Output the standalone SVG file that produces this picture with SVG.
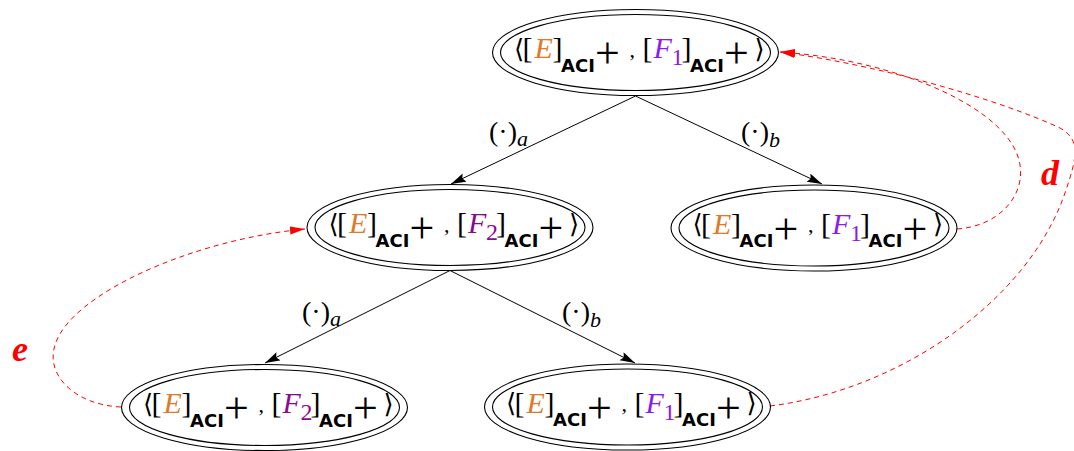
<svg xmlns="http://www.w3.org/2000/svg" width="1074" height="451" viewBox="0 0 1074 451">
<defs>
<style>
.eo{fill:none;stroke:#000;stroke-width:1.1}
.ang{font-family:"DejaVu Sans",sans-serif;font-size:26px}
.br{font-family:"Liberation Serif",serif;font-size:30px}
.it{font-family:"Liberation Serif",serif;font-size:30px;font-style:italic}
.aci{font-family:"DejaVu Sans",sans-serif;font-weight:bold;font-size:18px}
.pl{font-family:"Liberation Serif",serif;font-size:44px}
.cm{font-family:"Liberation Serif",serif;font-size:22px}
.sub{font-family:"Liberation Serif",serif;font-size:24px}
.cE{fill:#dd7a2c}
.cF1{fill:#8a1cf0}
.cF2{fill:#8b0a8b}
.edge{fill:none;stroke:#000;stroke-width:1}
.red{fill:none;stroke:#ff0000;stroke-width:1;stroke-dasharray:5 4}
.lbl{font-family:"Liberation Serif",serif;font-size:28px}
.lsub{font-family:"Liberation Serif",serif;font-size:22px;font-style:italic}
.rl{font-family:"Liberation Serif",serif;font-size:36px;font-weight:bold;font-style:italic;fill:#ff0000}
</style>
<marker id="ah" markerUnits="userSpaceOnUse" markerWidth="16" markerHeight="10" refX="15" refY="4.5" orient="auto">
<path d="M0,0 L15,4.5 L0,9 L2.5,4.5 z" fill="#000"/>
</marker>
<marker id="rh" markerUnits="userSpaceOnUse" markerWidth="16" markerHeight="10" refX="15" refY="4" orient="auto">
<path d="M0,0 L15,4 L0,8 z" fill="#ff0000"/>
</marker>
</defs>

<g id="connectors">
<line class="edge" x1="635.5" y1="96" x2="451" y2="184" marker-end="url(#ah)"/>
<line class="edge" x1="635.5" y1="96" x2="822" y2="184" marker-end="url(#ah)"/>
<line class="edge" x1="450" y1="270.5" x2="265" y2="363" marker-end="url(#ah)"/>
<line class="edge" x1="450" y1="270.5" x2="635" y2="363" marker-end="url(#ah)"/>
<text class="lbl" x="489" y="141">(·)<tspan class="lsub" y="146">a</tspan></text>
<text class="lbl" x="741" y="141">(·)<tspan class="lsub" y="147">b</tspan></text>
<text class="lbl" x="302" y="321">(·)<tspan class="lsub" y="326">a</tspan></text>
<text class="lbl" x="562" y="321">(·)<tspan class="lsub" y="327">b</tspan></text>
<path class="red" d="M121,407 C75,405 45,375 55,345 C70,295 190,240 305,229" marker-end="url(#rh)"/>
<path class="red" d="M957,229 C1000,226 1025,195 1020,165 C1012,110 900,60 780,52" marker-end="url(#rh)"/>
<path class="red" d="M770,406 C900,390 1030,300 1066,190 C1076,160 1082,140 1060,128 C1000,100 880,65 780,52" marker-end="url(#rh)"/>
<text class="rl" x="1041" y="185">d</text>
<text class="rl" x="12" y="361">e</text>
</g>

<g id="n_root" transform="translate(635.5,52.5)">
<ellipse class="eo" rx="143" ry="43"/>
<ellipse class="eo" rx="135" ry="38"/>
<text><tspan class="ang" x="-121.5" y="5">⟨</tspan><tspan class="br" x="-113" y="5.5">[</tspan><tspan class="it cE" x="-101" y="5.5">E</tspan><tspan class="br" x="-83" y="5.5">]</tspan><tspan class="aci" x="-74.5" y="19">ACI</tspan><tspan class="pl" x="-40.5" y="15.5">+</tspan><tspan class="cm" x="-6" y="4">,</tspan><tspan class="br" x="7" y="5.5">[</tspan><tspan class="it cF1" x="18" y="5.5">F</tspan><tspan class="sub cF1" x="36" y="12.5">1</tspan><tspan class="br" x="46" y="5.5">]</tspan><tspan class="aci" x="54.5" y="19">ACI</tspan><tspan class="pl" x="88.5" y="15.5">+</tspan><tspan class="ang" x="119" y="5">⟩</tspan></text>
</g>

<g id="n_left" transform="translate(450,227.5)">
<ellipse class="eo" rx="143" ry="43"/>
<ellipse class="eo" rx="135" ry="38"/>
<text><tspan class="ang" x="-121.5" y="5">⟨</tspan><tspan class="br" x="-113" y="5.5">[</tspan><tspan class="it cE" x="-101" y="5.5">E</tspan><tspan class="br" x="-83" y="5.5">]</tspan><tspan class="aci" x="-74.5" y="19">ACI</tspan><tspan class="pl" x="-40.5" y="15.5">+</tspan><tspan class="cm" x="-6" y="4">,</tspan><tspan class="br" x="7" y="5.5">[</tspan><tspan class="it cF2" x="18" y="5.5">F</tspan><tspan class="sub cF2" x="36" y="12.5">2</tspan><tspan class="br" x="46" y="5.5">]</tspan><tspan class="aci" x="54.5" y="19">ACI</tspan><tspan class="pl" x="88.5" y="15.5">+</tspan><tspan class="ang" x="119" y="5">⟩</tspan></text>
</g>

<g id="n_right" transform="translate(814,228)">
<ellipse class="eo" rx="143" ry="43"/>
<ellipse class="eo" rx="135" ry="38"/>
<text><tspan class="ang" x="-121.5" y="5">⟨</tspan><tspan class="br" x="-113" y="5.5">[</tspan><tspan class="it cE" x="-101" y="5.5">E</tspan><tspan class="br" x="-83" y="5.5">]</tspan><tspan class="aci" x="-74.5" y="19">ACI</tspan><tspan class="pl" x="-40.5" y="15.5">+</tspan><tspan class="cm" x="-6" y="4">,</tspan><tspan class="br" x="7" y="5.5">[</tspan><tspan class="it cF1" x="18" y="5.5">F</tspan><tspan class="sub cF1" x="36" y="12.5">1</tspan><tspan class="br" x="46" y="5.5">]</tspan><tspan class="aci" x="54.5" y="19">ACI</tspan><tspan class="pl" x="88.5" y="15.5">+</tspan><tspan class="ang" x="119" y="5">⟩</tspan></text>
</g>

<g id="n_bl" transform="translate(264.5,407.5)">
<ellipse class="eo" rx="143" ry="43"/>
<ellipse class="eo" rx="135" ry="38"/>
<text><tspan class="ang" x="-121.5" y="5">⟨</tspan><tspan class="br" x="-113" y="5.5">[</tspan><tspan class="it cE" x="-101" y="5.5">E</tspan><tspan class="br" x="-83" y="5.5">]</tspan><tspan class="aci" x="-74.5" y="19">ACI</tspan><tspan class="pl" x="-40.5" y="15.5">+</tspan><tspan class="cm" x="-6" y="4">,</tspan><tspan class="br" x="7" y="5.5">[</tspan><tspan class="it cF2" x="18" y="5.5">F</tspan><tspan class="sub cF2" x="36" y="12.5">2</tspan><tspan class="br" x="46" y="5.5">]</tspan><tspan class="aci" x="54.5" y="19">ACI</tspan><tspan class="pl" x="88.5" y="15.5">+</tspan><tspan class="ang" x="119" y="5">⟩</tspan></text>
</g>

<g id="n_br" transform="translate(627.5,407)">
<ellipse class="eo" rx="143" ry="43"/>
<ellipse class="eo" rx="135" ry="38"/>
<text><tspan class="ang" x="-121.5" y="5">⟨</tspan><tspan class="br" x="-113" y="5.5">[</tspan><tspan class="it cE" x="-101" y="5.5">E</tspan><tspan class="br" x="-83" y="5.5">]</tspan><tspan class="aci" x="-74.5" y="19">ACI</tspan><tspan class="pl" x="-40.5" y="15.5">+</tspan><tspan class="cm" x="-6" y="4">,</tspan><tspan class="br" x="7" y="5.5">[</tspan><tspan class="it cF1" x="18" y="5.5">F</tspan><tspan class="sub cF1" x="36" y="12.5">1</tspan><tspan class="br" x="46" y="5.5">]</tspan><tspan class="aci" x="54.5" y="19">ACI</tspan><tspan class="pl" x="88.5" y="15.5">+</tspan><tspan class="ang" x="119" y="5">⟩</tspan></text>
</g>
</svg>
